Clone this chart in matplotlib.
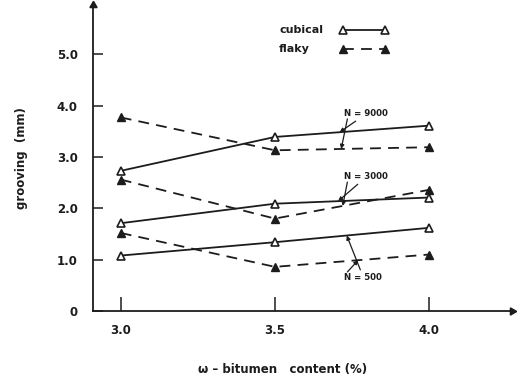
import numpy as np
import matplotlib
matplotlib.use("Agg")
import matplotlib.pyplot as plt
from matplotlib.lines import Line2D

# bitumen content (%)
bitumen = [3.0, 3.5, 4.0]

# grooving depth (mm) for each load-cycle level
cubical_9000 = [2.73, 3.39, 3.61]
flaky_9000 = [3.77, 3.13, 3.19]
cubical_3000 = [1.71, 2.09, 2.21]
flaky_3000 = [2.56, 1.80, 2.36]
cubical_500 = [1.08, 1.34, 1.62]
flaky_500 = [1.52, 0.86, 1.10]

x_ticks = [3.0, 3.5, 4.0]
x_tick_labels = ["3.0", "3.5", "4.0"]
y_ticks = [0, 1, 2, 3, 4, 5]
y_tick_labels = ["0", "1.0", "2.0", "3.0", "4.0", "5.0"]

INK = "#1c1c1c"
plt.rcParams["font.family"] = ["DejaVu Sans"]
plt.rcParams["font.weight"] = "bold"

fig = plt.figure(figsize=(5.21, 3.80), dpi=100)
W, H = 521, 380
ax = fig.add_axes([93 / W, 1 - 311 / H, (512 - 93) / W, (311 - 5) / H])
ax.set_xlim(2.910, 4.269)
ax.set_ylim(0, 5.96)

for s in ["top", "right"]:
    ax.spines[s].set_visible(False)
for s in ["left", "bottom"]:
    ax.spines[s].set_color(INK)
    ax.spines[s].set_linewidth(1.3)

# arrowheads at the ends of the axes
ax.plot(1, 0, marker=(3, 0, -90), ms=6, color=INK, transform=ax.transAxes, clip_on=False)
ax.plot(0, 1, marker=(3, 0, 0), ms=6, color=INK, transform=ax.transAxes, clip_on=False)

ax.set_xticks(x_ticks)
ax.set_xticklabels(x_tick_labels)
ax.set_yticks(y_ticks)
ax.set_yticklabels(y_tick_labels)
ax.tick_params(axis="x", direction="in", length=10, width=1.1, color=INK,
               pad=9, labelsize=8.5, labelcolor=INK)
ax.tick_params(axis="y", direction="in", length=7, width=1.1, color=INK,
               pad=11, labelsize=8.5, labelcolor=INK)

solid = dict(color=INK, lw=1.3, ls="-", marker="^", ms=6, mfc="white",
             mec=INK, mew=1.2)
dashed = dict(color=INK, lw=1.3, ls=(0, (6, 4)), marker="^", ms=6, mfc=INK,
              mec=INK)

for cub, fla in [(cubical_9000, flaky_9000), (cubical_3000, flaky_3000),
                 (cubical_500, flaky_500)]:
    ax.plot(bitumen, cub, **solid)
    ax.plot(bitumen, fla, **dashed)

# N labels with pointers to the curves
arrow = dict(arrowstyle="-|>", lw=0.9, color=INK, mutation_scale=6,
             shrinkA=0, shrinkB=0)
lab_kw = dict(fontsize=6.2, fontweight="bold", color=INK)

ax.annotate("N = 9000", xy=(3.71, np.interp(3.71, bitumen, cubical_9000)),
            xytext=(3.725, 3.84), arrowprops=arrow, ha="left", va="center", **lab_kw)
ax.annotate("", xy=(3.715, np.interp(3.715, bitumen, flaky_9000)),
            xytext=(3.735, 3.74), arrowprops=arrow)

ax.annotate("N = 3000", xy=(3.705, np.interp(3.705, bitumen, cubical_3000)),
            xytext=(3.725, 2.61), arrowprops=arrow, ha="left", va="center", **lab_kw)
ax.annotate("", xy=(3.72, np.interp(3.72, bitumen, flaky_3000)),
            xytext=(3.735, 2.51), arrowprops=arrow)

ax.annotate("N = 500", xy=(3.733, np.interp(3.733, bitumen, cubical_500)),
            xytext=(3.725, 0.66), arrowprops=arrow, ha="left", va="center", **lab_kw)
ax.annotate("", xy=(3.77, np.interp(3.77, bitumen, flaky_500)),
            xytext=(3.735, 0.76), arrowprops=arrow)

# key: left-aligned label followed by a sample line with end markers
for label, style, ypix in [("cubical", solid, 30), ("flaky", dashed, 49)]:
    fig.text(279 / W, 1 - ypix / H, label, ha="left", va="center",
             fontsize=8, fontweight="bold", color=INK)
    fig.add_artist(Line2D([343 / W, 385 / W], [1 - ypix / H] * 2,
                          transform=fig.transFigure, **style))

fig.text(283 / W, 1 - 369 / H, "ω – bitumen   content (%)", ha="center",
         va="center", fontsize=8.5, fontweight="bold", color=INK)
fig.text(22 / W, 1 - 158 / H, "grooving  (mm)", ha="center", va="center",
         rotation=90, fontsize=8.5, fontweight="bold", color=INK)

fig.savefig("out.png", dpi=100, facecolor="white")
